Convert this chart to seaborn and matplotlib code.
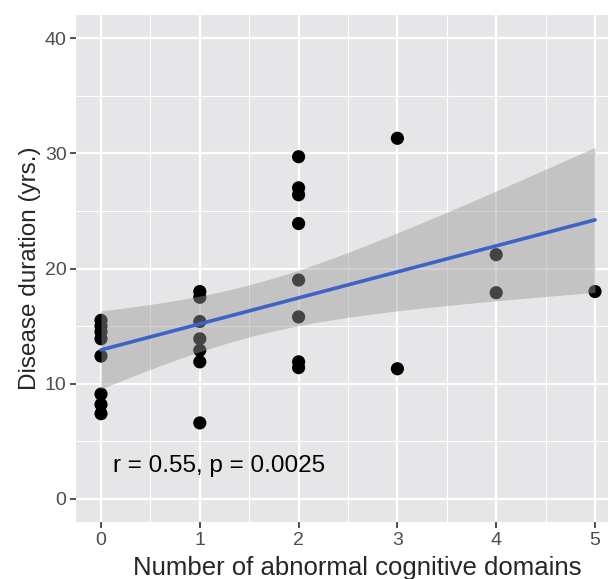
import numpy as np
import pandas as pd
import matplotlib
matplotlib.use("Agg")
import matplotlib.pyplot as plt
import seaborn as sns

# number of abnormal cognitive domains per patient and disease duration (yrs.)
domains = [0, 0, 0, 0, 0, 0, 0, 0,
           1, 1, 1, 1, 1, 1, 1,
           2, 2, 2, 2, 2, 2, 2, 2,
           3, 3,
           4, 4,
           5]
duration = [15.5, 15.0, 14.5, 13.9, 12.4, 9.1, 8.2, 7.4,
            18.0, 17.5, 15.4, 13.9, 12.9, 11.9, 6.6,
            29.7, 27.0, 26.4, 23.9, 19.0, 15.8, 11.9, 11.4,
            31.3, 11.3,
            21.2, 17.9,
            18.0]
x_ticks = [0, 1, 2, 3, 4, 5]
y_ticks = [0, 10, 20, 30, 40]
note = "r = 0.55, p = 0.0025"

df = pd.DataFrame({"domains": domains, "duration": duration})

sns.set_theme(style="darkgrid", rc={
    "axes.facecolor": "#E6E6E8",
    "grid.color": "white",
})
plt.rcParams["font.family"] = ["Liberation Sans", "DejaVu Sans"]

fig = plt.figure(figsize=(6.08, 5.79), dpi=100)
ax = fig.add_axes([76.3 / 608, 57 / 579, 543.4 / 608, 507 / 579])

sns.scatterplot(data=df, x="domains", y="duration", color="black", s=90,
                edgecolor="none", ax=ax, zorder=2)

# linear fit with a t-based 95% band (like geom_smooth(method = "lm"))
x = np.asarray(domains, float)
y = np.asarray(duration, float)
n = len(x)
b1, b0 = np.polyfit(x, y, 1)
resid = y - (b0 + b1 * x)
s_err = np.sqrt(np.sum(resid ** 2) / (n - 2))
grid = np.linspace(x.min(), x.max(), 100)
se = s_err * np.sqrt(1 / n + (grid - x.mean()) ** 2 / np.sum((x - x.mean()) ** 2))
t_crit = 2.056  # t(0.975, df=26)
fit = b0 + b1 * grid
ax.fill_between(grid, fit - t_crit * se, fit + t_crit * se,
                color="#999999", alpha=0.45, linewidth=0, zorder=3)
sns.lineplot(x=grid, y=fit, color="#3D62C8", linewidth=2.6, ax=ax, zorder=4)

ax.set_xlim(-0.25, 5.25)
ax.set_ylim(-2, 42)
ax.set_xticks(x_ticks)
ax.set_yticks(y_ticks)
ax.set_xticks([0.5, 1.5, 2.5, 3.5, 4.5], minor=True)
ax.set_yticks([5, 15, 25, 35], minor=True)
ax.grid(which="major", color="white", linewidth=1.6)
ax.grid(which="minor", color="white", linewidth=0.8)
for s in ax.spines.values():
    s.set_visible(False)

ax.tick_params(which="major", length=4, width=1.2, color="#333333",
               labelsize=14, labelcolor="#4D4D4D", pad=3, bottom=True, left=True)
ax.tick_params(which="minor", length=0)

ax.set_xlabel("Number of abnormal cognitive domains", fontsize=18.5)
ax.xaxis.set_label_coords(0.5166, -0.068)
ax.set_ylabel("Disease duration (yrs.)", fontsize=17.5, labelpad=3)

ax.text(0.12, 2.9, note, fontsize=17.5, color="black", va="center", ha="left")

fig.savefig("out.png", dpi=100)
